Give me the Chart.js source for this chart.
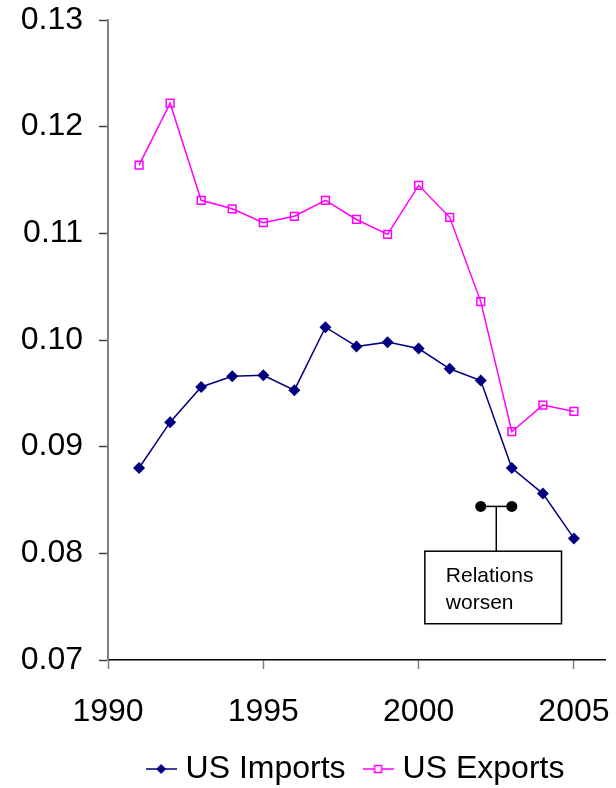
<!DOCTYPE html>
<html>
<head>
<meta charset="utf-8">
<script src="https://cdn.jsdelivr.net/npm/chart.js@4.4.1/dist/chart.umd.min.js"></script>
<style>
  html, body { margin: 0; padding: 0; background: #fff; }
  #wrap { width: 616px; height: 788px; }
</style>
</head>
<body>
<div id="wrap"><canvas id="myChart"></canvas></div>
<script>
// data
const years = [1991, 1992, 1993, 1994, 1995, 1996, 1997, 1998, 1999, 2000, 2001, 2002, 2003, 2004, 2005];
const usImports = [0.0880, 0.0923, 0.0956, 0.0966, 0.0967, 0.0953, 0.1012, 0.0994, 0.0998, 0.0992, 0.0973, 0.0962, 0.0880, 0.0856, 0.0814];
const usExports = [0.1164, 0.1222, 0.1131, 0.1123, 0.1110, 0.1116, 0.1131, 0.1113, 0.1099, 0.1145, 0.1115, 0.1036, 0.0914, 0.0939, 0.0933];
const xTicks = [1990, 1995, 2000, 2005];
const yTicks = [0.07, 0.08, 0.09, 0.10, 0.11, 0.12, 0.13];

// the "relations worsen" marker
const worsenYears = [2002, 2003];
const worsenLevel = 0.0844;
const noteText = ['Relations', 'worsen'];
const noteBox = { x1: 2000.2, x2: 2004.6, y1: 0.0802, y2: 0.0734 };

const FONT = '"Liberation Sans", Arial, sans-serif';
const FS = 32;

function pts(xs, ys) {
  let out = [];
  for (let i = 0; i < xs.length; i++) out.push({ x: xs[i], y: ys[i] });
  return out;
}

// small line+marker pictures for the legend
function legendIcon(color, kind) {
  let c = document.createElement('canvas');
  c.width = 31; c.height = 14;
  let g = c.getContext('2d');
  g.strokeStyle = color;
  g.lineWidth = 1.5;
  g.beginPath(); g.moveTo(0, 7); g.lineTo(31, 7); g.stroke();
  if (kind == 'diamond') {
    g.fillStyle = color;
    g.beginPath();
    g.moveTo(15.5, 2); g.lineTo(20.5, 7); g.lineTo(15.5, 12); g.lineTo(10.5, 7);
    g.closePath(); g.fill();
  } else {
    g.fillStyle = '#fff';
    g.fillRect(12, 3.5, 7, 7);
    g.strokeRect(12, 3.5, 7, 7);
  }
  return c;
}

const notePlugin = {
  id: 'note',
  afterLayout(chart) {
    // excel centres the legend under the plot
    const lg = chart.legend;
    const shift = (chart.chartArea.left + chart.chartArea.right) / 2 - (lg.left + lg.right) / 2 + 2;
    lg.left += shift; lg.right += shift;
    const dy = 762 - (lg.top + lg.bottom) / 2;
    lg.top += dy; lg.bottom += dy;
  },
  afterDatasetsDraw(chart) {
    const ctx = chart.ctx;
    const xs = chart.scales.x, ys = chart.scales.y;
    const left = xs.getPixelForValue(noteBox.x1), right = xs.getPixelForValue(noteBox.x2);
    const top = ys.getPixelForValue(noteBox.y1), bottom = ys.getPixelForValue(noteBox.y2);
    const midX = xs.getPixelForValue((worsenYears[0] + worsenYears[1]) / 2);
    const barY = ys.getPixelForValue(worsenLevel);
    ctx.save();
    ctx.strokeStyle = '#000';
    ctx.lineWidth = 1.5;
    ctx.beginPath(); ctx.moveTo(midX, barY); ctx.lineTo(midX, top); ctx.stroke();
    ctx.fillStyle = '#fff';
    ctx.fillRect(left, top, right - left, bottom - top);
    ctx.strokeRect(left, top, right - left, bottom - top);
    ctx.fillStyle = '#000';
    ctx.font = '21px ' + FONT;
    ctx.textAlign = 'left';
    ctx.textBaseline = 'middle';
    ctx.fillText(noteText[0], left + 21, top + 25);
    ctx.fillText(noteText[1], left + 21, top + 52);
    ctx.restore();
  }
};

var ctx = document.getElementById('myChart').getContext('2d');
var myChart = new Chart(ctx, {
  type: 'line',
  data: {
    datasets: [{
      label: 'US Imports',
      data: pts(years, usImports),
      borderColor: '#000080',
      backgroundColor: '#000080',
      borderWidth: 1.5,
      pointStyle: 'rectRot',
      pointRadius: 6,
      pointBackgroundColor: '#000080',
      pointBorderWidth: 0,
      tension: 0
    }, {
      label: 'US Exports',
      data: pts(years, usExports),
      borderColor: '#ff00ff',
      backgroundColor: '#ff00ff',
      borderWidth: 1.5,
      pointStyle: 'rect',
      pointRadius: 5.5,
      pointBackgroundColor: 'rgba(255,255,255,0)',
      pointBorderColor: '#ff00ff',
      pointBorderWidth: 1.5,
      tension: 0
    }, {
      label: 'worsen',
      data: pts(worsenYears, [worsenLevel, worsenLevel]),
      borderColor: '#000',
      backgroundColor: '#000',
      borderWidth: 1.5,
      pointStyle: 'circle',
      pointRadius: 5.5,
      pointBackgroundColor: '#000',
      pointBorderWidth: 0
    }]
  },
  options: {
    responsive: true,
    maintainAspectRatio: false,
    animation: false,
    events: [],
    layout: { padding: { top: 20, right: 11, left: 0, bottom: 0 } },
    plugins: {
      tooltip: { enabled: false },
      legend: {
        position: 'bottom',
        labels: {
          usePointStyle: true,
          pointStyleWidth: 17,
          boxHeight: FS,
          padding: 24,
          color: '#000',
          font: { family: FONT, size: FS },
          generateLabels: function (chart) {
            return [
              { text: 'US Imports', pointStyle: legendIcon('#000080', 'diamond'), fillStyle: '#000080', strokeStyle: '#000080', lineWidth: 0, datasetIndex: 0 },
              { text: 'US Exports', pointStyle: legendIcon('#ff00ff', 'square'), fillStyle: '#ff00ff', strokeStyle: '#ff00ff', lineWidth: 0, datasetIndex: 1 }
            ];
          }
        }
      }
    },
    scales: {
      x: {
        type: 'linear',
        min: 1990,
        max: 2006,
        afterBuildTicks: function (s) { s.ticks = xTicks.map(v => ({ value: v })); },
        afterFit: function (s) { s.height = 62; s.paddingLeft = 0; s.paddingRight = 0; },
        grid: { drawOnChartArea: false, color: '#808080', tickLength: 9, tickWidth: 1.5 },
        border: { color: '#000', width: 1.5 },
        ticks: {
          color: '#000',
          padding: 24,
          maxRotation: 0,
          font: { family: FONT, size: FS },
          callback: v => String(v)
        }
      },
      y: {
        min: 0.07,
        max: 0.13,
        afterBuildTicks: function (s) { s.ticks = yTicks.map(v => ({ value: v })); },
        afterFit: function (s) { s.width = 108; s.paddingTop = 0; s.paddingBottom = 0; },
        grid: { drawOnChartArea: false, color: '#404040', tickLength: 9, tickWidth: 1.5 },
        border: { color: '#808080', width: 2 },
        ticks: {
          color: '#000',
          padding: 16,
          font: { family: FONT, size: FS },
          callback: v => v.toFixed(2)
        }
      }
    }
  },
  plugins: [notePlugin]
});
</script>
</body>
</html>
